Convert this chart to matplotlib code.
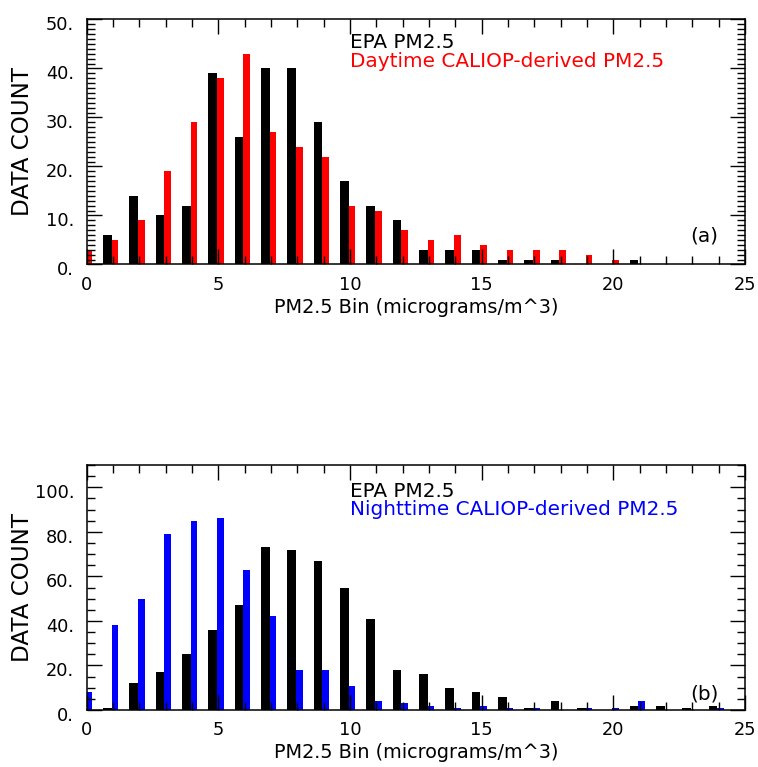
import matplotlib
matplotlib.use("Agg")
import matplotlib.pyplot as plt
import matplotlib.transforms as mtransforms
from matplotlib.ticker import MultipleLocator, FuncFormatter
import numpy as np

# ---- data ----
bins = list(range(26))
epa_day = [0, 6, 14, 10, 12, 39, 26, 40, 40, 29, 17, 12, 9, 3, 3, 3, 1, 1, 1, 0, 0, 1, 0, 0, 0, 0]
caliop_day = [3, 5, 9, 19, 29, 38, 43, 27, 24, 22, 12, 11, 7, 5, 6, 4, 3, 3, 3, 2, 1, 0, 0, 0, 0, 0]
epa_night = [0, 1, 12, 17, 25, 36, 47, 73, 72, 67, 55, 41, 18, 16, 10, 8, 6, 1, 4, 1, 0, 2, 2, 1, 2, 0]
caliop_night = [8, 38, 50, 79, 85, 86, 63, 42, 18, 18, 11, 4, 3, 2, 1, 2, 1, 1, 0, 1, 1, 4, 0, 0, 1, 0]

label_epa = "EPA PM2.5"
label_day = "Daytime CALIOP-derived PM2.5"
label_night = "Nighttime CALIOP-derived PM2.5"
xlabel = "PM2.5 Bin (micrograms/m^3)"
ylabel = "DATA COUNT"

plt.rcParams['font.family'] = ['DejaVu Sans']

TXT = 14.4
XL = 13.9
YL = 16.6
TICK = 12.8

fig = plt.figure(figsize=(7.58, 7.67), dpi=100)
left, right = 0.1144, 0.9828
ax1 = fig.add_axes([left, 0.6552, right - left, 0.9746 - 0.6552])
ax2 = fig.add_axes([left, 0.0743, right - left, 0.3937 - 0.0743])

x = np.array(bins, dtype=float)
w_epa = 0.33
w_cal = 0.25


def style(ax, ymax, ymaj, ymin):
    ax.set_xlim(0, 25)
    ax.set_ylim(0, ymax)
    ax.xaxis.set_major_locator(MultipleLocator(5))
    ax.xaxis.set_minor_locator(MultipleLocator(1))
    ax.yaxis.set_major_locator(MultipleLocator(ymaj))
    ax.yaxis.set_minor_locator(MultipleLocator(ymin))
    ax.yaxis.set_major_formatter(FuncFormatter(lambda v, p: "%d." % v))
    ax.xaxis.set_major_formatter(FuncFormatter(lambda v, p: "%d" % v))
    ax.tick_params(which='both', direction='in', top=True, right=True, width=1.0, color='black')
    ax.tick_params(which='major', length=11)
    ax.tick_params(which='minor', length=5.5)
    ax.tick_params(axis='x', which='major', labelsize=TICK, pad=8)
    ax.tick_params(axis='y', which='major', labelsize=TICK, pad=9)
    for sp in ax.spines.values():
        sp.set_linewidth(1.1)
    offset = mtransforms.ScaledTranslation(0, -4 / 100, fig.dpi_scale_trans)
    for lab in ax.get_yticklabels():
        lab.set_transform(lab.get_transform() + offset)
    ax.set_xlabel(xlabel, fontsize=XL)
    ax.xaxis.set_label_coords(0.5, -0.135)
    ax.set_ylabel(ylabel, fontsize=YL)
    ax.yaxis.set_label_coords(-0.080, 0.5)


# top panel
ax1.bar(x - 0.05 - w_epa, epa_day, width=w_epa, align='edge', color='black', linewidth=0)
ax1.bar(x - 0.05, caliop_day, width=w_cal, align='edge', color='#ff0000', linewidth=0)
style(ax1, 50, 10, 1)
ax1.text(10.0, 44.2, label_epa, color='black', fontsize=TXT, va='baseline', ha='left')
ax1.text(10.0, 40.4, label_day, color='#ff0000', fontsize=TXT, va='baseline', ha='left')
ax1.text(24.0, 4.6, "(a)", color='black', fontsize=TXT, va='baseline', ha='right')

# bottom panel
ax2.bar(x - 0.05 - w_epa, epa_night, width=w_epa, align='edge', color='black', linewidth=0)
ax2.bar(x - 0.05, caliop_night, width=w_cal, align='edge', color='#0000ff', linewidth=0)
style(ax2, 110, 20, 5)
ax2.text(10.0, 95.8, label_epa, color='black', fontsize=TXT, va='baseline', ha='left')
ax2.text(10.0, 87.6, label_night, color='#0000ff', fontsize=TXT, va='baseline', ha='left')
ax2.text(24.0, 4.5, "(b)", color='black', fontsize=TXT, va='baseline', ha='right')

fig.savefig("out.png", dpi=100)
